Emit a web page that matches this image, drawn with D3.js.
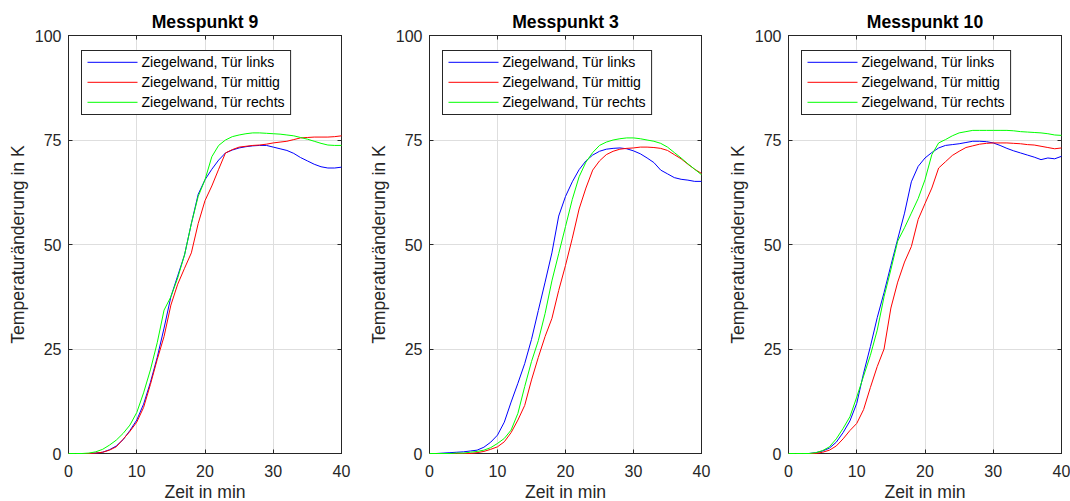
<!DOCTYPE html>
<html><head><meta charset="utf-8">
<script src="https://cdn.jsdelivr.net/npm/d3@7"></script>
<style>body{margin:0;background:#fff}svg{display:block;font-family:"Liberation Sans",Arial,Helvetica,sans-serif}</style>
</head><body><svg id="c" width="1070" height="501"></svg>
<script>
// ---- data ----
const minutes = [0,1,2,3,4,5,6,7,8,9,10,11,12,13,14,15,16,17,18,19,20,21,22,23,24,25,26,27,28,29,30,31,32,33,34,35,36,37,38,39,40];
const seriesNames = ["Ziegelwand, Tür links", "Ziegelwand, Tür mittig", "Ziegelwand, Tür rechts"];
const seriesColors = ["#0000ff", "#ff0000", "#00ff00"];
const panelTitles = ["Messpunkt 9", "Messpunkt 3", "Messpunkt 10"];
const xTicks = [0, 10, 20, 30, 40];
const yTicks = [0, 25, 50, 75, 100];
const xLabel = "Zeit in min";
const yLabel = "Temperaturänderung in K";

// Messpunkt 9
const mp9Links  = [0,0,0,0,0.1,0.3,0.9,1.8,3.3,5.5,8,11.8,17,23,30,37.5,42.5,47.5,55,62,65.5,68,70.2,71.9,72.6,73.1,73.4,73.6,73.7,73.7,73.3,72.9,72.5,71.8,70.8,70,69.2,68.6,68.3,68.3,68.5];
const mp9Mittig = [0,0,0,0,0.1,0.3,0.8,1.6,3.4,5.3,7.5,11,16.5,22.5,28,35.5,40.5,44.3,48,55,60.5,64,68,71.9,72.7,73.3,73.5,73.7,73.8,74,74.3,74.5,74.7,75.1,75.5,75.6,75.7,75.7,75.7,75.8,76];
const mp9Rechts = [0,0,0,0.1,0.4,1,2,3.2,4.8,6.8,9.8,14.5,20,26.5,34.3,37.5,42,47.5,55,61.5,65.5,71,73.7,75,75.8,76.2,76.5,76.7,76.7,76.6,76.5,76.4,76.2,76,75.6,75.2,74.7,74.2,73.8,73.7,73.7];
// Messpunkt 3
const mp3Links  = [0,0,0.1,0.2,0.3,0.4,0.6,0.8,1.5,2.7,4.4,7.5,12.3,16.8,21.5,27.3,34.2,41,48,56.8,61.5,65,67.9,70,71.4,72.3,72.8,73,73.1,72.9,72.4,71.7,70.7,69.6,67.8,66.9,66,65.6,65.4,65.1,65.1];
const mp3Mittig = [0,0,0,0,0,0,0,0.2,0.5,1,1.6,2.8,5,8,11.5,17.6,23,28,32.3,39,45,51.5,58.5,63.5,67.8,70,71.5,72.3,72.8,73,73.1,73.3,73.3,73.2,73,72.5,71.5,70.5,69.2,68,67];
const mp3Rechts = [0,0,0,0,0.1,0.1,0.3,0.5,0.8,1.4,2.4,3.6,5.6,9.6,16,22,27,33.5,41.3,47.8,54.3,60.8,66.2,69.7,72,73.7,74.5,75,75.3,75.5,75.5,75.3,75,74.7,74.2,73.3,72,70.7,69.3,68,66.7];
// Messpunkt 10
const mp10Links  = [0,0,0,0,0.2,0.6,1.3,2.7,5,7.8,12,19.2,25.6,32.5,38.5,45,51.3,57.5,65,68.7,70.7,72,73.1,73.7,73.9,74.1,74.4,74.7,74.7,74.6,74.3,73.7,73,72.4,71.9,71.4,70.9,70.3,70.7,70.5,71.1];
const mp10Mittig = [0,0,0,0,0,0.3,0.8,1.8,3.5,5.5,7.2,10.5,15.8,20.8,25,34.8,41,45.8,49.5,56,59.8,63.5,68.3,69.8,71.3,72.3,73.2,73.6,74,74.2,74.3,74.3,74.3,74.2,74.1,73.9,73.8,73.5,73.2,72.9,73.1];
const mp10Rechts = [0,0,0,0,0.2,0.7,1.6,3.5,6,8.8,13.5,18.5,23.5,29.5,37.5,44,50.8,54,57.5,61,65.5,71.5,74.3,75.1,76,76.7,77,77.3,77.3,77.3,77.3,77.3,77.3,77.2,77,76.9,76.8,76.7,76.5,76.2,76.1];

const panelData = [
  [mp9Links, mp9Mittig, mp9Rechts],
  [mp3Links, mp3Mittig, mp3Rechts],
  [mp10Links, mp10Mittig, mp10Rechts]
];

// ---- layout ----
const svg = d3.select("#c");
const panelLefts = [68.5, 429.5, 788.5];
const panelRights = [341.5, 701.5, 1061.5];
const plotTop = 35.5, plotBottom = 453.5;
const axisColor = "#262626";
const gridColor = "#dedede";

panelTitles.forEach((title, p) => {
  const L = panelLefts[p], R = panelRights[p];
  const x = d3.scaleLinear().domain([0, 40]).range([L, R]);
  const y = d3.scaleLinear().domain([0, 100]).range([plotBottom, plotTop]);
  const g = svg.append("g");
  const snap = v => Math.round(v - 0.5) + 0.5;

  // grid
  g.selectAll(".gx").data(xTicks.slice(1, -1)).enter().append("line")
    .attr("x1", d => snap(x(d))).attr("x2", d => snap(x(d)))
    .attr("y1", plotTop).attr("y2", plotBottom)
    .attr("stroke", gridColor).attr("stroke-width", 1);
  g.selectAll(".gy").data(yTicks.slice(1, -1)).enter().append("line")
    .attr("y1", d => snap(y(d))).attr("y2", d => snap(y(d)))
    .attr("x1", L).attr("x2", R)
    .attr("stroke", gridColor).attr("stroke-width", 1);

  // box
  g.append("rect").attr("x", L).attr("y", plotTop).attr("width", R - L).attr("height", plotBottom - plotTop)
    .attr("fill", "none").attr("stroke", axisColor).attr("stroke-width", 1);

  // ticks (inside, both sides)
  const tl = 4;
  xTicks.forEach(t => {
    const xx = snap(x(t));
    g.append("line").attr("x1", xx).attr("x2", xx).attr("y1", plotBottom).attr("y2", plotBottom - tl).attr("stroke", axisColor);
    g.append("line").attr("x1", xx).attr("x2", xx).attr("y1", plotTop).attr("y2", plotTop + tl).attr("stroke", axisColor);
  });
  yTicks.forEach(t => {
    const yy = snap(y(t));
    g.append("line").attr("y1", yy).attr("y2", yy).attr("x1", L).attr("x2", L + tl).attr("stroke", axisColor);
    g.append("line").attr("y1", yy).attr("y2", yy).attr("x1", R).attr("x2", R - tl).attr("stroke", axisColor);
  });

  // tick labels
  g.selectAll(".xl").data(xTicks).enter().append("text")
    .attr("x", d => x(d)).attr("y", 477).attr("text-anchor", "middle")
    .attr("font-size", 16).attr("fill", axisColor).text(d => d);
  g.selectAll(".yl").data(yTicks).enter().append("text")
    .attr("x", L - 7).attr("y", d => y(d) + 6).attr("text-anchor", "end")
    .attr("font-size", 16).attr("fill", axisColor).text(d => d);

  // axis labels
  g.append("text").attr("x", (L + R) / 2).attr("y", 497.5).attr("text-anchor", "middle")
    .attr("font-size", 17.6).attr("fill", axisColor).text(xLabel);
  g.append("text").attr("transform", `translate(${L - 44.5},${(plotTop + plotBottom) / 2}) rotate(-90)`)
    .attr("text-anchor", "middle").attr("font-size", 17.6).attr("fill", axisColor).text(yLabel);

  // title
  g.append("text").attr("x", (L + R) / 2).attr("y", 28.3).attr("text-anchor", "middle")
    .attr("font-size", 17.6).attr("font-weight", "bold").attr("fill", "#000").text(title);

  // lines
  const line = d3.line().x((d, i) => x(minutes[i])).y(d => y(d));
  panelData[p].forEach((vals, s) => {
    g.append("path").datum(vals).attr("d", line)
      .attr("fill", "none").attr("stroke", seriesColors[s]).attr("stroke-width", 1);
  });

  // legend
  const lx = L + 13, ly = 50.5;
  const lg = g.append("g");
  const box = lg.append("rect").attr("x", lx).attr("y", ly).attr("height", 64)
    .attr("fill", "#fff").attr("stroke", axisColor).attr("stroke-width", 1);
  let maxW = 0;
  seriesNames.forEach((name, s) => {
    const cy = ly + 11.8 + s * 20;
    lg.append("line").attr("x1", lx + 6).attr("x2", lx + 56).attr("y1", cy).attr("y2", cy)
      .attr("stroke", seriesColors[s]).attr("stroke-width", 1);
    const t = lg.append("text").attr("x", lx + 60).attr("y", cy + 5.1)
      .attr("font-size", 14.1).attr("fill", "#000").text(name);
    maxW = Math.max(maxW, t.node().getComputedTextLength());
  });
  box.attr("width", 60 + maxW + 6);
});
</script></body></html>
